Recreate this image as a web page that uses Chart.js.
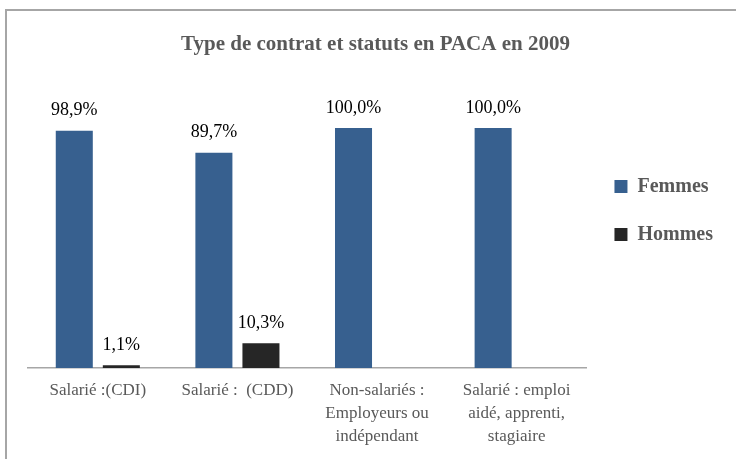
<!DOCTYPE html>
<html lang="fr">
<head>
<meta charset="utf-8">
<title>Type de contrat et statuts en PACA en 2009</title>
<script src="https://cdn.jsdelivr.net/npm/chart.js@4.4.1/dist/chart.umd.min.js"></script>
<style>
  html, body { margin: 0; padding: 0; background: #fff; overflow: hidden; }
  #wrap { position: relative; width: 736px; height: 459px; }
  #frame {
    position: absolute; left: 5px; top: 9px; width: 800px; height: 520px;
    border: 2px solid #a6a6a6; box-sizing: border-box;
  }
  #chart { position: absolute; left: 0; top: 0; }
</style>
</head>
<body>
<div id="wrap">
  <div id="frame"></div>
  <canvas id="chart" width="736" height="459"></canvas>
</div>
<script>
'use strict';

const categories = [
  ['Salarié :(CDI)'],
  ['Salarié :  (CDD)'],
  ['Non-salariés :', 'Employeurs ou', 'indépendant'],
  ['Salarié : emploi', 'aidé, apprenti,', 'stagiaire'],
];
const femmes = [98.9, 89.7, 100.0, 100.0];
const hommes = [1.1, 10.3, 0, 0];

const SERIF = '"Liberation Serif", "DejaVu Serif", serif';

function fmtPct(v) {
  return v.toFixed(1).replace('.', ',') + '%';
}

// étiquettes de valeur au-dessus des barres
const valueLabels = {
  id: 'valueLabels',
  afterDatasetsDraw(chart) {
    const ctx = chart.ctx;
    ctx.save();
    ctx.font = '18px ' + SERIF;
    ctx.fillStyle = '#000';
    ctx.textAlign = 'center';
    ctx.textBaseline = 'middle';
    chart.data.datasets.forEach((ds, i) => {
      chart.getDatasetMeta(i).data.forEach((bar, j) => {
        const v = ds.data[j];
        if (!v) return;
        ctx.fillText(fmtPct(v), bar.x, bar.y - 20);
      });
    });
    ctx.restore();
  },
};

new Chart(document.getElementById('chart'), {
  type: 'bar',
  data: {
    labels: categories,
    datasets: [
      {
        label: 'Femmes',
        data: femmes,
        backgroundColor: '#37608f',
        categoryPercentage: 0.674,
        barPercentage: 0.787,
      },
      {
        label: 'Hommes',
        data: hommes,
        backgroundColor: '#262626',
        categoryPercentage: 0.674,
        barPercentage: 0.787,
      },
    ],
  },
  options: {
    responsive: false,
    animation: false,
    layout: { padding: { left: 28, right: 13, top: 0, bottom: 0 } },
    plugins: {
      title: {
        display: true,
        text: 'Type de contrat et statuts en PACA en 2009',
        color: '#595959',
        font: { family: SERIF, size: 21, weight: 'bold', lineHeight: 1.2 },
        padding: { top: 32.4, bottom: 70.4 },
      },
      legend: {
        position: 'right',
        align: 'start',
        // titre vide : sert seulement à descendre la légende
        title: { display: true, text: '', font: { size: 12 }, padding: { top: 134, bottom: 0 } },
        labels: {
          boxWidth: 13,
          boxHeight: 13,
          padding: 28,
          color: '#595959',
          font: { family: SERIF, size: 20, weight: 'bold' },
        },
      },
      tooltip: { enabled: false },
    },
    scales: {
      x: {
        grid: { display: false, drawTicks: false },
        border: { display: true, color: '#a6a6a6', width: 1.5 },
        ticks: {
          color: '#595959',
          padding: 11,
          maxRotation: 0,
          autoSkip: false,
          font: { family: SERIF, size: 17, lineHeight: 23 / 17 },
        },
      },
      y: {
        display: false,
        min: 0,
        max: 100,
      },
    },
  },
  plugins: [valueLabels],
});
</script>
</body>
</html>
